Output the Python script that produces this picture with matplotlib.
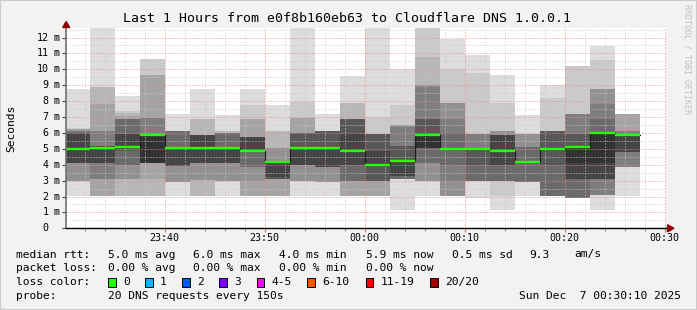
import numpy as np
import matplotlib
matplotlib.use("Agg")
import matplotlib.pyplot as plt
from matplotlib import transforms
from matplotlib.patches import Rectangle, Polygon

# step start times (each step = 150 s, 20 DNS pings)
col_times = ["23:30:00", "23:32:30", "23:35:00", "23:37:30", "23:40:00", "23:42:30",
             "23:45:00", "23:47:30", "23:50:00", "23:52:30", "23:55:00", "23:57:30",
             "00:00:00", "00:02:30", "00:05:00", "00:07:30", "00:10:00", "00:12:30",
             "00:15:00", "00:17:30", "00:20:00", "00:22:30", "00:25:00"]
step_end = "00:27:30"

# sorted ping rtts per step (ms)
ping_rtt_ms = [
    [2.04, 2.96, 2.96, 2.96, 2.96, 4.08, 4.08, 4.08, 4.08, 4.98, 5.0, 5.96, 6.0, 6.05, 6.1, 6.17, 6.22, 6.27, 6.32, 8.79],
    [2.04, 2.04, 2.04, 2.04, 3.09, 3.09, 4.08, 4.08, 4.08, 5.0, 5.05, 5.15, 5.19, 5.19, 6.1, 6.1, 7.85, 8.9, 8.9, 12.57],
    [2.04, 2.04, 2.04, 3.09, 3.09, 4.01, 4.01, 4.85, 5.05, 5.12, 5.12, 5.96, 5.96, 6.86, 6.86, 6.86, 7.04, 7.28, 7.35, 8.31],
    [2.04, 2.04, 2.04, 3.09, 4.08, 4.08, 4.08, 4.08, 4.08, 4.08, 5.95, 5.95, 5.95, 5.95, 6.93, 6.93, 9.65, 9.65, 10.64, 10.64],
    [2.04, 2.9, 2.9, 2.9, 2.9, 3.9, 3.9, 3.9, 3.9, 5.0, 5.05, 5.05, 5.05, 6.1, 6.1, 6.1, 6.1, 6.1, 6.1, 7.2],
    [2.04, 2.04, 2.04, 3.06, 3.06, 4.1, 4.1, 4.1, 4.1, 5.0, 5.05, 5.9, 5.9, 5.9, 5.9, 5.9, 5.9, 6.9, 6.9, 8.75],
    [2.04, 2.96, 2.96, 2.96, 2.96, 4.08, 4.08, 4.08, 4.08, 5.0, 5.05, 5.05, 5.05, 6.0, 6.0, 6.0, 6.0, 6.1, 6.1, 7.12],
    [2.04, 2.04, 2.04, 2.04, 2.96, 3.88, 3.88, 4.85, 4.85, 4.85, 4.9, 5.75, 5.75, 5.75, 5.75, 5.75, 6.86, 6.86, 7.74, 8.75],
    [2.04, 2.04, 2.04, 2.04, 3.09, 3.09, 3.09, 3.09, 3.2, 4.12, 4.16, 4.16, 4.16, 4.16, 4.16, 5.06, 5.06, 6.1, 6.1, 7.74],
    [2.04, 3.0, 3.0, 3.0, 3.0, 4.0, 4.0, 4.0, 4.0, 5.0, 5.05, 5.05, 5.99, 5.99, 5.99, 5.99, 6.93, 6.93, 7.92, 12.57],
    [2.04, 2.92, 2.92, 2.92, 2.92, 3.87, 3.87, 3.87, 3.87, 5.0, 5.05, 5.05, 6.1, 6.1, 6.1, 6.1, 6.1, 6.1, 6.1, 7.16],
    [2.04, 2.04, 2.04, 2.04, 2.96, 2.96, 2.96, 3.97, 3.97, 4.87, 4.92, 5.96, 6.9, 6.9, 6.9, 6.9, 6.9, 7.86, 7.86, 9.59],
    [2.04, 2.04, 2.04, 2.04, 2.96, 2.96, 2.96, 2.96, 3.97, 3.97, 4.03, 4.85, 5.96, 5.96, 5.96, 5.96, 5.96, 5.96, 7.0, 12.57],
    [1.13, 3.09, 3.09, 3.09, 3.09, 3.09, 3.09, 3.27, 3.3, 4.22, 4.26, 4.26, 5.19, 5.19, 6.4, 6.5, 6.5, 6.5, 7.75, 10.0],
    [2.04, 2.96, 2.96, 2.96, 2.96, 4.08, 4.08, 5.02, 5.02, 5.02, 5.9, 5.96, 6.9, 6.9, 8.9, 9.0, 9.0, 10.8, 12.57, 12.57],
    [2.04, 2.04, 2.04, 2.04, 2.04, 2.96, 4.0, 5.0, 5.0, 5.0, 5.0, 5.0, 5.0, 6.0, 6.9, 7.87, 7.87, 7.87, 10.0, 11.9],
    [1.9, 2.96, 2.96, 2.96, 2.96, 2.96, 2.96, 4.0, 5.0, 5.0, 5.0, 5.05, 5.05, 5.05, 5.96, 5.96, 5.96, 5.96, 9.74, 10.9],
    [1.13, 2.04, 2.96, 2.96, 2.96, 2.96, 2.96, 4.0, 4.0, 4.87, 4.92, 5.9, 5.9, 5.9, 5.9, 6.1, 6.1, 6.1, 7.87, 9.67],
    [2.04, 2.92, 2.92, 2.92, 2.92, 2.92, 2.92, 4.12, 4.12, 4.12, 4.16, 4.16, 4.16, 5.12, 5.12, 5.96, 5.96, 5.96, 5.96, 7.1],
    [2.04, 2.04, 2.04, 2.04, 2.04, 2.04, 2.04, 3.97, 5.0, 5.0, 5.0, 5.0, 6.1, 6.1, 6.1, 6.1, 6.1, 6.1, 8.2, 9.04],
    [1.92, 1.92, 1.92, 1.92, 1.92, 1.92, 1.92, 3.09, 3.09, 4.08, 5.12, 5.12, 5.96, 5.96, 7.16, 7.16, 7.16, 7.16, 10.22, 10.22],
    [1.13, 2.12, 2.12, 2.12, 2.12, 2.12, 3.13, 3.13, 3.13, 4.08, 6.0, 6.02, 6.02, 6.86, 7.81, 8.75, 8.75, 8.75, 10.57, 11.48],
    [2.04, 3.87, 3.87, 3.87, 3.87, 3.87, 4.81, 4.81, 4.81, 5.88, 5.92, 5.92, 5.92, 5.92, 6.1, 6.1, 7.16, 7.16, 7.16, 7.16],
]

# median rtt per step (ms)
median_ms = [4.99, 5.03, 5.12, 5.9, 5.02, 5.02, 5.02, 4.88, 4.14, 5.02, 5.02, 4.88,
             4.0, 4.25, 5.9, 5.0, 5.0, 4.88, 4.14, 5.0, 5.12, 6.02, 5.9]

x_ticks = ["23:40", "23:50", "00:00", "00:10", "00:20", "00:30"]
y_ticks = [0, 1, 2, 3, 4, 5, 6, 7, 8, 9, 10, 11, 12]

title = "Last 1 Hours from e0f8b160eb63 to Cloudflare DNS 1.0.0.1"
loss_labels = ["0", "1", "2", "3", "4-5", "6-10", "11-19", "20/20"]
loss_colors = ["#26ff00", "#00b8ff", "#0059ff", "#7e00ff", "#ff00ff", "#ff5500", "#ff0000", "#a00000"]


def to_min(t):
    # minutes after 23:30:00
    p = [int(v) for v in t.split(":")]
    m = p[0] * 60 + p[1] + p[2] / 60.0
    if p[0] == 23:
        return m - (23 * 60 + 30)
    return m + 30


MONO = "DejaVu Sans Mono"
W, H = 697, 310
fig = plt.figure(figsize=(W / 100, H / 100), dpi=100, facecolor="#f2f2f2")

x0, x1, ytop, ybot = 66.2, 666.2, 28.0, 228.3
ax = fig.add_axes([x0 / W, 1 - ybot / H, (x1 - x0) / W, (ybot - ytop) / H])
ax.set_facecolor("white")
ax.set_xlim(to_min("23:30:10"), to_min("00:30:10"))
ax.set_ylim(0, 12.6)

starts = [to_min(t) for t in col_times]
ends = starts[1:] + [to_min(step_end)]

# smoke: band ping[k] .. ping[21-k], darker towards the middle
for i in range(len(starts)):
    p = ping_rtt_ms[i]
    for k in range(1, 11):
        g = int(190 / 10 * (10 - k)) + 50
        col = "#%02x%02x%02x" % (g, g, g)
        lo, hi = p[k - 1], p[20 - k]
        ax.bar(starts[i], hi - lo, width=ends[i] - starts[i], bottom=lo, align="edge",
               color=col, linewidth=0, antialiased=False, zorder=1)

# grid on top of the smoke
dot = (0, (1, 2))
for v in np.arange(0.5, 12.6, 1.0):
    ax.axhline(v, color="#c8c8c8", lw=0.72, ls=dot, zorder=3)
for v in y_ticks[1:]:
    ax.axhline(v, color="#ec8c8c", lw=0.72, ls=dot, zorder=3)
tick_pos = [to_min(("00:" if t.startswith("00") else "23:") + t[3:] + ":00") for t in x_ticks]
for m in np.arange(2, 61, 2):
    if m % 10:
        ax.axvline(m, color="#c8c8c8", lw=0.72, ls=dot, zorder=3)
for m in tick_pos:
    ax.axvline(m, color="#ec8c8c", lw=0.72, ls=dot, zorder=3)

# median: dark step line + green (0 loss) segments
xs = starts + [ends[-1]]
ax.step(xs, median_ms + [median_ms[-1]], where="post", color="#202020", lw=0.9, zorder=4)
ax.hlines(median_ms, starts, ends, color=loss_colors[0], lw=1.7, zorder=5)

# axes look
for s in ["top", "right"]:
    ax.spines[s].set_visible(False)
ax.spines["left"].set_color("#707070")
ax.spines["left"].set_linewidth(1.2)
ax.spines["bottom"].set_color("black")
ax.spines["bottom"].set_linewidth(1.0)
ax.spines["left"].set_zorder(6)
ax.spines["bottom"].set_zorder(6)

ax.set_xticks(tick_pos)
ax.set_xticklabels(x_ticks, fontfamily=MONO, fontsize=7.2)
ax.set_xticks(np.arange(2, 61, 2), minor=True)
ax.tick_params(axis="x", which="major", length=3, width=0.8, color="#ff6060", pad=0.3)
ax.tick_params(axis="x", which="minor", length=2, width=0.7, color="#909090")
ax.set_yticks(y_ticks)
ax.set_yticklabels([])
ax.tick_params(axis="y", which="major", length=3, width=0.8, color="#404040")

tr = transforms.blended_transform_factory(ax.transAxes, ax.transData)
for v in y_ticks:
    ax.text((48.5 - x0) / (x1 - x0), v, str(v), transform=tr, ha="right", va="center",
            fontfamily=MONO, fontsize=7.2, clip_on=False)
    if v:
        ax.text((54 - x0) / (x1 - x0), v, "m", transform=tr, ha="left", va="center",
                fontfamily=MONO, fontsize=7.2, clip_on=False)

# axis arrows
fig.patches.append(Polygon([[(x0 - 3.5) / W, 1 - 27.5 / H], [(x0 + 3.5) / W, 1 - 27.5 / H],
                            [x0 / W, 1 - 21.5 / H]], closed=True, color="#8b0000",
                           transform=fig.transFigure, zorder=10))
fig.patches.append(Polygon([[667.5 / W, 1 - (ybot - 3.5) / H], [667.5 / W, 1 - (ybot + 3.5) / H],
                            [674 / W, 1 - ybot / H]], closed=True, color="#8b0000",
                           transform=fig.transFigure, zorder=10))

# texts
fig.text(347 / W, 1 - 19 / H, title, ha="center", va="center", fontfamily=MONO, fontsize=9.5)
fig.text(11 / W, 1 - 128 / H, "Seconds", rotation=90, ha="center", va="center",
         fontfamily=MONO, fontsize=8.1)
fig.text(687 / W, 1 - 4 / H, "RRDTOOL / TOBI OETIKER", rotation=270, ha="center", va="top",
         fontfamily=MONO, fontsize=6, color="#c0c0c0")

leg = [
    (254.5, [(16, "median rtt:"), (107.7, "5.0 ms avg"), (193.5, "6.0 ms max"), (279.4, "4.0 ms min"),
             (365.7, "5.9 ms now"), (451.5, "0.5 ms sd"), (529.4, "9.3"), (573.8, "am/s")]),
    (268, [(16, "packet loss:"), (107.7, "0.00 % avg"), (193.5, "0.00 % max"), (279.4, "0.00 % min"),
           (365.7, "0.00 % now")]),
    (282, [(16, "loss color:")]),
    (296, [(16, "probe:"), (107.7, "20 DNS requests every 150s")]),
]
for y, items in leg:
    for x, s in items:
        fig.text(x / W, 1 - y / H, s, ha="left", va="center", fontfamily=MONO, fontsize=8.1)
fig.text(681 / W, 1 - 296 / H, "Sun Dec  7 00:30:10 2025", ha="right", va="center",
         fontfamily=MONO, fontsize=8.1)

box_x = [108.3, 145, 182.3, 219, 256.7, 307.3, 365.7, 430]
for bx, lab, c in zip(box_x, loss_labels, loss_colors):
    fig.patches.append(Rectangle((bx / W, 1 - 286.5 / H), 7.7 / W, 8.5 / H, facecolor=c,
                                 edgecolor="black", lw=0.7, transform=fig.transFigure))
    fig.text((bx + 15) / W, 1 - 282 / H, lab, ha="left", va="center", fontfamily=MONO, fontsize=8.1)

fig.patches.append(Rectangle((0, 0), 1, 1, fill=False, edgecolor="#cbcbcb", lw=1.5,
                             transform=fig.transFigure))

fig.savefig("out.png", dpi=100, facecolor=fig.get_facecolor())
